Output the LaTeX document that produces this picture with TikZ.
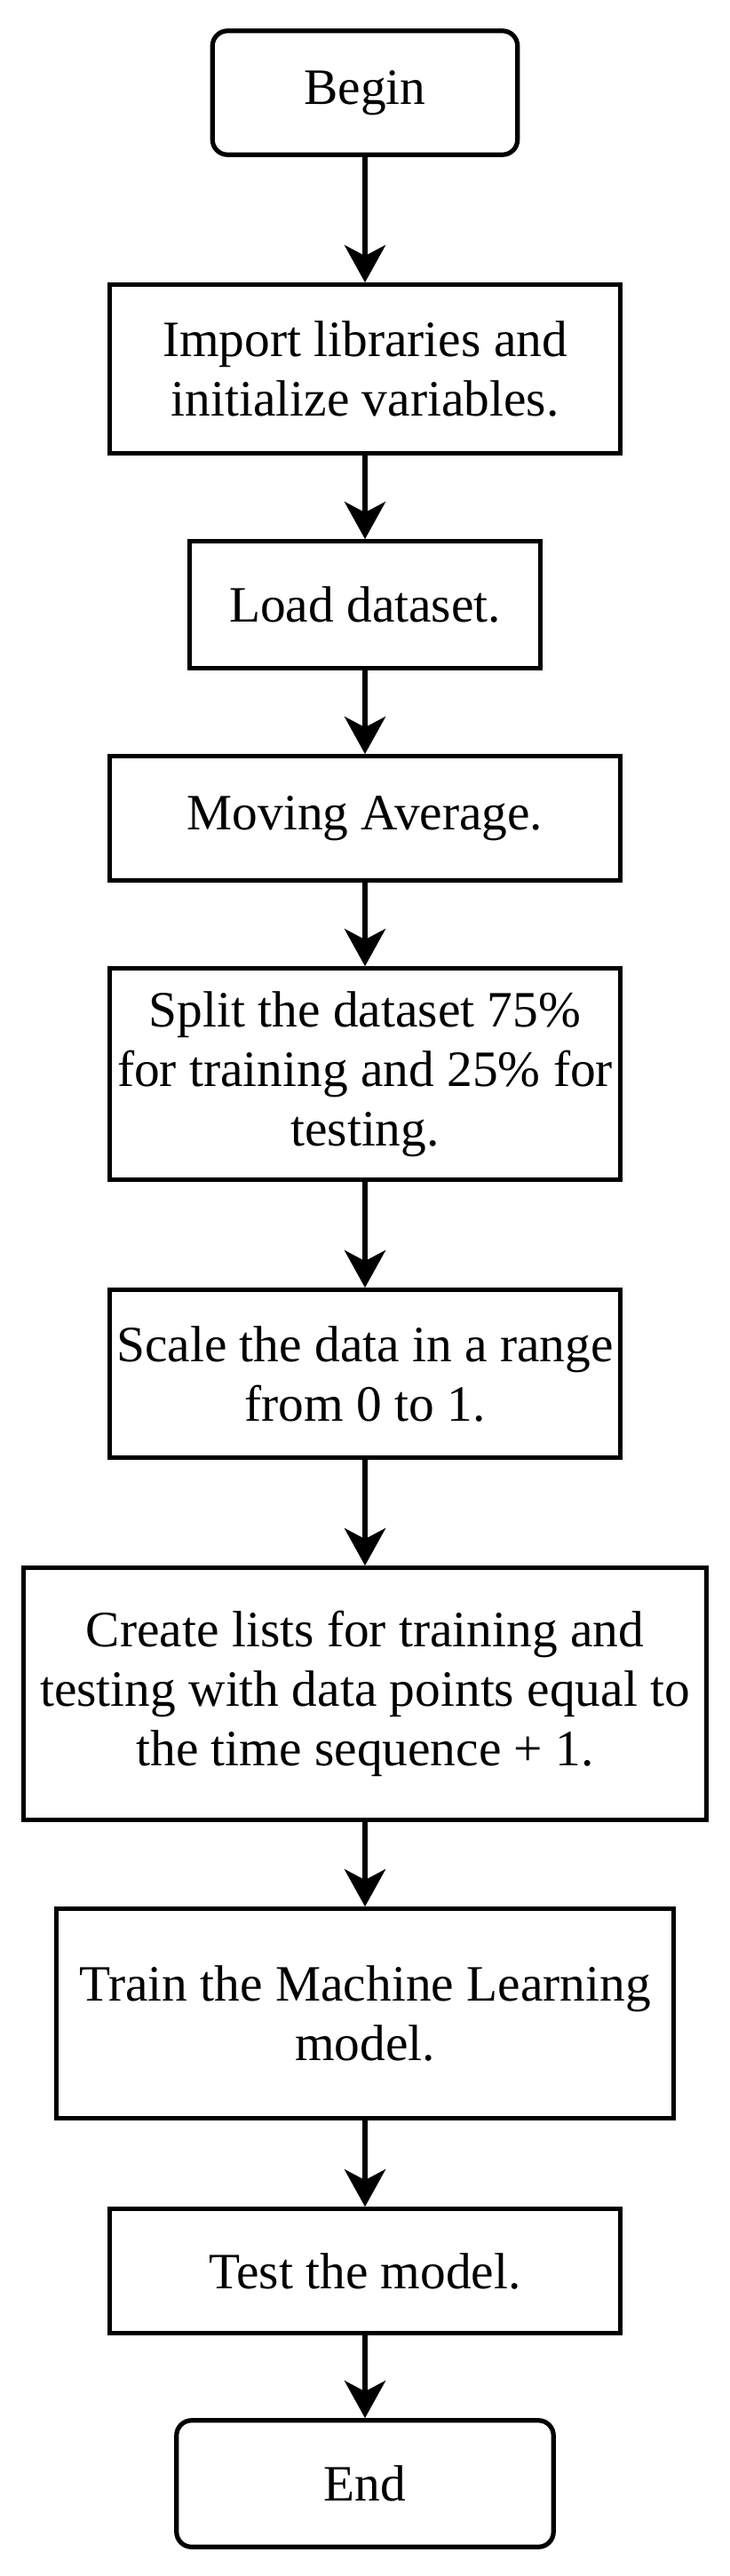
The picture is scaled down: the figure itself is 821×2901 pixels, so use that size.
\documentclass[tikz,border=0pt]{standalone}
\usepackage{fontspec}
\setmainfont{Liberation Serif}
\usetikzlibrary{arrows.meta}
\begin{document}
\begin{tikzpicture}[x=0.5pt,y=-0.5pt,
  box/.style={draw=black, line width=2.6pt, fill=white, inner sep=0pt, align=center, font=\fontsize{28.7}{33.5}\selectfont},
  term/.style={box, rounded corners=8.5pt},
  flow/.style={draw=black, line width=3.2pt, -{Stealth[length=21pt,width=23pt,inset=6pt]}}]
\useasboundingbox (0,0) rectangle (821,2901);
\node[term, minimum width=171.75pt, minimum height=69.75pt] (begin) at (411,104.5) {Begin};
\node[box, minimum width=287.25pt, minimum height=94.75pt] (import) at (411,415.5) {Import libraries and\\initialize variables.};
\node[box, minimum width=197.75pt, minimum height=71.25pt] (load) at (411,681) {Load dataset.};
\node[box, minimum width=287.25pt, minimum height=69.75pt] (moving) at (411,921.5) {Moving Average.};
\node[box, minimum width=287.25pt, minimum height=118.75pt] (split) at (411,1209.5) {Split the dataset 75\%\\for training and 25\% for\\testing.};
\node[box, minimum width=287.25pt, minimum height=94.25pt] (scale) at (411,1547) {Scale the data in a range\\from 0 to 1.};
\node[box, minimum width=384.25pt, minimum height=141.75pt] (create) at (411,1907.5) {Create lists for training and\\testing with data points equal to\\the time sequence + 1.};
\node[box, minimum width=347.25pt, minimum height=117.75pt] (train) at (411,2267.5) {Train the Machine Learning\\model.};
\node[box, minimum width=287.25pt, minimum height=69.75pt] (test) at (411,2557.5) {Test the model.};
\node[term, minimum width=212.25pt, minimum height=71.25pt] (end) at (411,2797) {End};
\draw[flow] (begin) -- (import);
\draw[flow] (import) -- (load);
\draw[flow] (load) -- (moving);
\draw[flow] (moving) -- (split);
\draw[flow] (split) -- (scale);
\draw[flow] (scale) -- (create);
\draw[flow] (create) -- (train);
\draw[flow] (train) -- (test);
\draw[flow] (test) -- (end);
\end{tikzpicture}
\end{document}
